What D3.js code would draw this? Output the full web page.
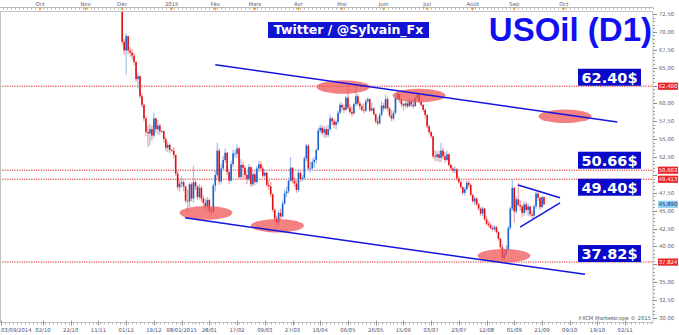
<!DOCTYPE html>
<html>
<head>
<meta charset="utf-8">
<script src="https://cdn.jsdelivr.net/npm/d3@7/dist/d3.min.js"></script>
<style>
  body { margin: 0; background: #fff; }
  svg { display: block; }
</style>
</head>
<body>
<svg id="chart" width="679" height="335"></svg>
<script>
// bar index 0 = 03/09/2014, one bar per weekday
var firstBar = 61; // 27/11/2014
var firstOpen = 73.9;

var closes = [
  68.6, 67.4, 69.4, 67.4, 67.1, 66.7, 65.8, 63.4, 63.8, 61.0,
  59.8, 57.9, 56.0, 55.8, 56.4, 55.5, 57.9, 56.4, 56.9, 56.1,
  56.1, 55.0, 53.8, 54.2, 53.5, 53.4, 52.8, 50.2, 48.3, 48.8,
  49.0, 48.4, 46.4, 46.3, 48.7, 46.7, 49.0, 48.4, 46.9, 48.2,
  46.7, 46.1, 45.6, 46.5, 45.0, 44.9, 48.5, 50.0, 53.4, 49.1,
  50.9, 52.1, 53.1, 50.4, 49.2, 51.5, 53.0, 53.0, 53.7, 49.7,
  51.4, 51.0, 50.0, 49.4, 51.1, 48.7, 50.1, 49.0, 50.9, 51.5,
  50.9, 49.9, 50.3, 48.6, 48.4, 47.3, 45.1, 43.9, 43.4, 44.7,
  44.2, 46.0, 47.4, 47.7, 49.2, 51.0, 49.2, 48.8, 47.9, 50.3,
  49.4, 49.6, 52.3, 54.1, 50.9, 50.9, 51.8, 52.1, 53.5, 56.2,
  56.6, 55.9, 56.4, 55.6, 56.4, 57.9, 57.5, 57.0, 57.4, 58.7,
  59.8, 59.4, 59.1, 60.8, 59.4, 58.8, 58.6, 59.9, 61.0, 60.0,
  59.6, 59.1, 59.0, 60.3, 60.6, 59.0, 59.3, 58.5, 57.5, 57.2,
  58.4, 59.7, 59.3, 60.6, 59.3, 58.3, 57.9, 58.7, 60.7, 61.3,
  60.5, 59.9, 59.7, 60.0, 59.6, 60.3, 59.8, 59.6, 60.7, 61.2,
  60.2, 59.8, 59.1, 58.4, 56.8, 56.0, 55.4, 52.6, 52.5, 52.9,
  52.4, 53.4, 52.6, 52.1, 52.9, 51.4, 50.9, 50.6, 50.8, 49.5,
  49.0, 48.3, 47.5, 48.0, 48.9, 48.6, 47.2, 46.3, 46.7, 45.9,
  45.3, 44.6, 45.3, 43.8, 43.2, 43.0, 42.6, 42.4, 42.7, 42.0,
  41.1, 39.9, 38.4, 39.0, 39.6, 42.6, 45.3, 48.2, 44.9, 46.6,
  45.8, 45.6, 44.7, 45.9, 45.1, 45.6, 44.5, 44.3, 45.6, 47.4,
  46.8, 45.5, 46.9, 45.9
];

var highs = [
  74.5, 69.0, 69.8, 69.5, 67.9, 67.6, 67.0, 65.9, 64.3, 63.9,
  61.4, 60.0, 58.2, 56.9, 57.1, 56.9, 58.7, 58.0, 57.7, 57.2,
  56.3, 56.3, 55.3, 54.7, 54.4, 53.7, 53.9, 52.9, 50.5, 49.4,
  49.8, 49.4, 48.5, 48.0, 48.9, 49.0, 51.3, 49.5, 48.6, 48.7,
  48.5, 47.1, 46.7, 46.9, 46.7, 45.4, 48.8, 50.7, 54.5, 53.7,
  51.6, 52.7, 53.7, 53.2, 50.5, 52.0, 53.5, 53.5, 54.3, 53.9,
  52.2, 51.8, 51.3, 50.5, 51.5, 51.2, 50.5, 50.5, 51.3, 52.0,
  51.9, 51.2, 50.8, 50.4, 49.3, 49.0, 47.4, 45.3, 44.3, 45.1,
  45.3, 46.4, 47.9, 48.4, 49.6, 52.5, 51.1, 49.7, 49.3, 50.8,
  50.8, 50.0, 52.6, 54.4, 54.3, 51.8, 52.3, 52.5, 53.7, 56.6,
  57.0, 57.0, 56.8, 56.9, 57.0, 58.4, 58.1, 57.9, 57.7, 59.0,
  60.2, 60.1, 59.8, 61.0, 62.5, 59.9, 59.6, 60.2, 62.4, 61.3,
  60.3, 60.0, 60.0, 60.7, 60.9, 60.7, 60.1, 59.5, 58.6, 58.1,
  58.7, 60.3, 60.1, 61.2, 61.0, 59.5, 59.0, 59.0, 60.9, 61.6,
  61.4, 60.6, 60.1, 60.3, 60.4, 60.8, 60.6, 60.6, 61.1, 61.6,
  61.4, 60.5, 59.9, 59.3, 58.5, 57.0, 56.2, 55.5, 53.5, 53.3,
  53.4, 54.5, 53.8, 53.2, 53.4, 53.0, 51.6, 51.1, 51.2, 51.0,
  49.8, 49.2, 48.4, 48.3, 49.3, 49.2, 48.8, 47.3, 47.0, 46.9,
  46.1, 45.5, 45.6, 45.4, 44.3, 43.6, 43.4, 42.9, 43.0, 42.9,
  42.2, 41.2, 40.3, 39.7, 40.2, 42.9, 45.6, 49.4, 48.3, 47.0,
  48.9, 46.4, 45.8, 46.3, 46.2, 46.0, 45.7, 45.0, 45.9, 47.6,
  47.7, 46.9, 47.1, 47.0
];

var lows = [
  68.2, 66.8, 64.0, 66.9, 66.5, 66.1, 65.3, 63.0, 62.1, 60.7,
  59.4, 57.5, 55.4, 53.9, 54.1, 54.8, 55.2, 55.9, 55.7, 55.6,
  55.9, 54.5, 53.3, 53.2, 53.0, 53.2, 52.3, 49.9, 47.9, 47.7,
  48.2, 47.7, 46.1, 44.8, 45.5, 46.3, 46.1, 47.9, 46.5, 46.6,
  46.2, 45.5, 45.0, 45.3, 44.7, 44.4, 44.7, 47.7, 49.4, 48.6,
  48.8, 50.5, 51.7, 50.0, 48.7, 49.1, 51.1, 52.4, 52.4, 49.4,
  49.5, 49.3, 49.5, 48.7, 49.2, 48.3, 48.4, 48.6, 48.8, 50.4,
  50.5, 49.6, 49.4, 48.3, 47.9, 46.9, 44.8, 43.5, 42.7, 42.9,
  43.8, 44.0, 45.8, 46.9, 47.4, 49.0, 48.8, 48.3, 47.5, 47.6,
  49.0, 49.1, 49.4, 51.9, 50.6, 50.3, 50.5, 51.0, 51.6, 53.4,
  55.8, 55.5, 55.2, 55.2, 55.3, 56.1, 56.9, 56.6, 56.4, 57.1,
  58.5, 58.9, 58.7, 59.0, 59.1, 58.5, 58.2, 58.4, 59.6, 59.7,
  59.1, 58.9, 58.6, 58.8, 60.0, 58.8, 58.9, 58.3, 57.2, 56.9,
  57.1, 58.2, 58.9, 59.2, 58.9, 58.0, 57.5, 57.6, 58.5, 60.4,
  60.1, 59.5, 59.0, 59.4, 59.3, 59.5, 59.5, 59.3, 59.6, 60.5,
  60.0, 59.5, 58.8, 57.9, 56.5, 55.7, 55.1, 52.3, 51.9, 51.9,
  51.8, 51.8, 52.2, 51.7, 51.9, 51.1, 50.6, 50.3, 50.2, 49.2,
  48.7, 48.0, 47.2, 47.1, 47.8, 48.2, 47.0, 46.1, 45.8, 45.6,
  45.0, 44.3, 44.3, 43.6, 42.9, 42.7, 42.4, 42.1, 42.2, 41.8,
  40.8, 39.6, 37.8, 38.1, 38.7, 39.4, 42.3, 45.0, 43.3, 44.6,
  45.6, 45.0, 44.1, 44.3, 44.7, 44.3, 44.2, 43.9, 44.0, 45.3,
  46.4, 45.2, 45.4, 45.7
];

// bottom axis: bar index of each date label
var dateTickBars = [0, 21, 35, 49, 63, 77, 91, 105, 119, 133, 147, 161, 175, 189, 203, 217, 231, 245, 259, 273, 287, 301, 315];
var dateTickLabels = ["03/09/2014", "02/10", "22/10", "11/11", "01/12", "19/12", "08/01/2015", "28/01", "17/02", "09/03", "27/03", "16/04",
  "06/05", "26/05", "15/06", "03/07", "23/07", "12/08", "01/09", "21/09", "09/10", "19/10", "02/11"];

// top axis: month markers
var monthBars = [19.5, 42.5, 61, 86, 108, 128, 150, 172, 193, 215, 238, 259, 284];
var monthLabels = ["Oct", "Nov", "Déc", "2015", "Fév", "Mars", "Avr", "Mai", "Juin", "Juil", "Août", "Sep", "Oct"];

// horizontal levels
var levelValues = [62.40, 50.66, 49.40, 37.82];
var levelTags = ["62.40$", "50.66$", "49.40$", "37.82$"];
var levelAxisTags = ["62,400", "50,663", "49,413", "37,824"];
var lastPrice = 45.89;
var lastPriceTag = "45,890";

// trend lines [bar, price] -> [bar, price]
var trendLines = [
  [[108, 65.4], [311, 57.4]],
  [[92.7, 44.0], [294.7, 36.1]],
  [[260.9, 48.6], [282.1, 46.8]],
  [[261.9, 42.7], [282.1, 46.1]]
];

// highlighted zones [bar, price]
var zones = [[103.3, 44.7], [139.4, 42.9], [172.5, 62.3], [210.9, 61.1], [284.6, 58.2], [253.8, 38.7]];

var svg = d3.select("#chart");
var W = 679, H = 335;
var plotL = 0, plotR = 653, plotT = 11.5, plotB = 322.5;

var x = d3.scaleLinear().domain([21, 273]).range([43, 542]);
var y = d3.scaleLinear().domain([30, 72.5]).range([318, 14]);

svg.append("rect").attr("width", W).attr("height", H).attr("fill", "#fff");

svg.append("defs").append("clipPath").attr("id", "plotclip")
  .append("rect").attr("x", plotL).attr("y", plotT).attr("width", plotR - plotL).attr("height", plotB - plotT);

// build candles
var candles = closes.map(function (c, k) {
  var o = k === 0 ? firstOpen : closes[k - 1];
  return {
    i: firstBar + k,
    o: o,
    c: c,
    h: Math.max(highs[k], o, c),
    l: Math.min(lows[k], o, c)
  };
});

var plot = svg.append("g").attr("clip-path", "url(#plotclip)");

// dotted levels
plot.selectAll("line.level")
  .data(levelValues)
  .join("line")
  .attr("class", "level")
  .attr("x1", plotL).attr("x2", plotR)
  .attr("y1", function (d) { return y(d); })
  .attr("y2", function (d) { return y(d); })
  .attr("stroke", "#f04040")
  .attr("stroke-width", 1.6)
  .attr("stroke-dasharray", "1.2,1.2")
  .attr("opacity", 0.8);

// wicks
plot.selectAll("line.wick")
  .data(candles)
  .join("line")
  .attr("class", "wick")
  .attr("x1", function (d) { return x(d.i); })
  .attr("x2", function (d) { return x(d.i); })
  .attr("y1", function (d) { return y(d.h); })
  .attr("y2", function (d) { return y(d.l); })
  .attr("stroke", function (d) { return d.c >= d.o ? "#9dbfea" : "#f2a0a0"; })
  .attr("stroke-width", 1.2);

// bodies
plot.selectAll("rect.body")
  .data(candles)
  .join("rect")
  .attr("class", "body")
  .attr("x", function (d) { return x(d.i) - 0.8; })
  .attr("width", 1.6)
  .attr("y", function (d) { return y(Math.max(d.o, d.c)); })
  .attr("height", function (d) { return Math.max(0.8, Math.abs(y(d.o) - y(d.c))); })
  .attr("fill", function (d) { return d.c >= d.o ? "#1c62cc" : "#e0101a"; });

// zones
plot.selectAll("ellipse")
  .data(zones)
  .join("ellipse")
  .attr("cx", function (d) { return x(d[0]); })
  .attr("cy", function (d) { return y(d[1]); })
  .attr("rx", 26.5)
  .attr("ry", 6.8)
  .attr("fill", "#f05050")
  .attr("opacity", 0.72);

// trend lines
plot.selectAll("line.trend")
  .data(trendLines)
  .join("line")
  .attr("class", "trend")
  .attr("x1", function (d) { return x(d[0][0]); })
  .attr("y1", function (d) { return y(d[0][1]); })
  .attr("x2", function (d) { return x(d[1][0]); })
  .attr("y2", function (d) { return y(d[1][1]); })
  .attr("stroke", "#1414e0")
  .attr("stroke-width", 1.5);

// frame
svg.append("rect")
  .attr("x", plotL + 0.5).attr("y", plotT)
  .attr("width", plotR - plotL - 0.5).attr("height", plotB - plotT)
  .attr("fill", "none").attr("stroke", "#c4c4c4");

// top axis
var topAxis = svg.append("g");
topAxis.append("line").attr("x1", 0).attr("x2", plotR).attr("y1", 7.5).attr("y2", 7.5).attr("stroke", "#b8b8b8");
topAxis.selectAll("line.mt")
  .data(d3.range(1, 330, 2))
  .join("line")
  .attr("class", "mt")
  .attr("x1", function (d) { return Math.round(x(d)) + 0.5; })
  .attr("x2", function (d) { return Math.round(x(d)) + 0.5; })
  .attr("y1", 7.5).attr("y2", 9.5)
  .attr("stroke", "#b0b0b0");
topAxis.selectAll("path.mk")
  .data(monthBars)
  .join("path")
  .attr("class", "mk")
  .attr("d", function (d) { var cx = x(d); return "M" + (cx - 1.6) + ",7.5L" + (cx + 1.6) + ",7.5L" + cx + ",11z"; })
  .attr("fill", "#f0a020");
topAxis.selectAll("text")
  .data(monthBars)
  .join("text")
  .attr("x", function (d) { return x(d); })
  .attr("y", 5.5)
  .attr("text-anchor", "middle")
  .attr("font-family", "DejaVu Sans, sans-serif")
  .attr("font-size", 5.3)
  .attr("fill", "#5a5a78")
  .text(function (d, i) { return monthLabels[i]; });

// bottom axis
var bottomAxis = svg.append("g");
bottomAxis.selectAll("line.bt")
  .data(d3.range(0, 330, 2))
  .join("line")
  .attr("class", "bt")
  .attr("x1", function (d) { return Math.round(x(d)) + 0.5; })
  .attr("x2", function (d) { return Math.round(x(d)) + 0.5; })
  .attr("y1", plotB).attr("y2", plotB + 1.8)
  .attr("stroke", "#a8a8a8");
bottomAxis.selectAll("line.bmaj")
  .data(dateTickBars)
  .join("line")
  .attr("class", "bmaj")
  .attr("x1", function (d) { return Math.round(x(d)) + 0.5; })
  .attr("x2", function (d) { return Math.round(x(d)) + 0.5; })
  .attr("y1", plotB - 2).attr("y2", plotB + 3)
  .attr("stroke", "#999");
bottomAxis.selectAll("text")
  .data(dateTickBars)
  .join("text")
  .attr("x", function (d, i) { return i === 0 ? 1 : x(d); })
  .attr("y", 331.5)
  .attr("text-anchor", function (d, i) { return i === 0 ? "start" : "middle"; })
  .attr("font-family", "DejaVu Sans, sans-serif")
  .attr("font-size", 5.3)
  .attr("fill", "#4c4c70")
  .text(function (d, i) { return dateTickLabels[i]; });

// right axis
var rightAxis = svg.append("g");
var fmt = function (v) { return d3.format(".2f")(v).replace(".", ","); };
rightAxis.selectAll("line.rmin")
  .data(d3.range(30, 72.51, 0.5))
  .join("line")
  .attr("class", "rmin")
  .attr("x1", plotR).attr("x2", plotR + 2)
  .attr("y1", function (d) { return Math.round(y(d)) + 0.5; })
  .attr("y2", function (d) { return Math.round(y(d)) + 0.5; })
  .attr("stroke", "#a0a0a0");
var majors = d3.range(30, 72.51, 2.5);
rightAxis.selectAll("line.rmaj")
  .data(majors)
  .join("line")
  .attr("class", "rmaj")
  .attr("x1", plotR).attr("x2", plotR + 4)
  .attr("y1", function (d) { return Math.round(y(d)) + 0.5; })
  .attr("y2", function (d) { return Math.round(y(d)) + 0.5; })
  .attr("stroke", "#8a8a8a");
// labels hidden behind a price tag are left out
var tagged = levelValues.concat([lastPrice]);
var freeMajors = majors.filter(function (v) {
  return tagged.every(function (t) { return Math.abs(y(v) - y(t)) > 6; });
});
rightAxis.selectAll("text.rl")
  .data(freeMajors)
  .join("text")
  .attr("class", "rl")
  .attr("x", plotR + 6)
  .attr("y", function (d) { return y(d) + 2; })
  .attr("font-family", "DejaVu Sans, sans-serif")
  .attr("font-size", 5.3)
  .attr("fill", "#5a5a78")
  .text(fmt);

// price tags on the right axis
var tags = rightAxis.selectAll("g.tag")
  .data(levelValues)
  .join("g")
  .attr("class", "tag")
  .attr("transform", function (d) { return "translate(" + (plotR + 5) + "," + y(d) + ")"; });
tags.append("rect").attr("x", 0).attr("y", -3.6).attr("width", 20).attr("height", 7.2).attr("fill", "#e8262a");
tags.append("text")
  .attr("x", 10).attr("y", 2)
  .attr("text-anchor", "middle")
  .attr("font-family", "DejaVu Sans, sans-serif")
  .attr("font-size", 5.3)
  .attr("fill", "#fff")
  .text(function (d, i) { return levelAxisTags[i]; });

var lastTag = rightAxis.append("g").attr("transform", "translate(" + (plotR + 5) + "," + y(lastPrice) + ")");
lastTag.append("rect").attr("x", 0).attr("y", -3.6).attr("width", 20).attr("height", 7.2).attr("fill", "#8fd0f4");
lastTag.append("text")
  .attr("x", 10).attr("y", 2)
  .attr("text-anchor", "middle")
  .attr("font-family", "DejaVu Sans, sans-serif")
  .attr("font-size", 5.3)
  .attr("fill", "#203070")
  .text(lastPriceTag);

// level boxes in the chart
var boxOffsets = [-9, -10, 8, -8.5];
var boxes = svg.selectAll("g.lvl")
  .data(levelValues)
  .join("g")
  .attr("class", "lvl")
  .attr("transform", function (d, i) { return "translate(578," + (y(d) + boxOffsets[i]) + ")"; });
boxes.append("rect")
  .attr("x", 0).attr("y", -8.5).attr("width", 63).attr("height", 17)
  .attr("fill", "#0a0ac8");
boxes.append("text")
  .attr("x", 31.5).attr("y", 5.5)
  .attr("text-anchor", "middle")
  .attr("font-family", "DejaVu Sans, sans-serif")
  .attr("font-weight", "bold")
  .attr("font-size", 14.5)
  .attr("fill", "#fff")
  .text(function (d, i) { return levelTags[i]; });

// titles
svg.append("rect").attr("x", 268).attr("y", 22).attr("width", 161).attr("height", 16).attr("fill", "#1212d2");
svg.append("text")
  .attr("x", 348.5).attr("y", 33.5)
  .attr("text-anchor", "middle")
  .attr("font-family", "DejaVu Sans, sans-serif")
  .attr("font-weight", "bold")
  .attr("font-size", 12.5)
  .attr("fill", "#fff")
  .text("Twitter / @Sylvain_Fx");

svg.append("text")
  .attr("x", 652).attr("y", 41)
  .attr("text-anchor", "end")
  .attr("font-family", "Liberation Sans, Arial, sans-serif")
  .attr("font-weight", "bold")
  .attr("font-size", 33)
  .attr("fill", "#1010f0")
  .text("USOil (D1)");

svg.append("text")
  .attr("x", 651).attr("y", 319.5)
  .attr("text-anchor", "end")
  .attr("font-family", "DejaVu Sans, sans-serif")
  .attr("font-size", 5.3)
  .attr("fill", "#555")
  .text("FXCM Marketscope © 2015");
</script>
</body>
</html>
